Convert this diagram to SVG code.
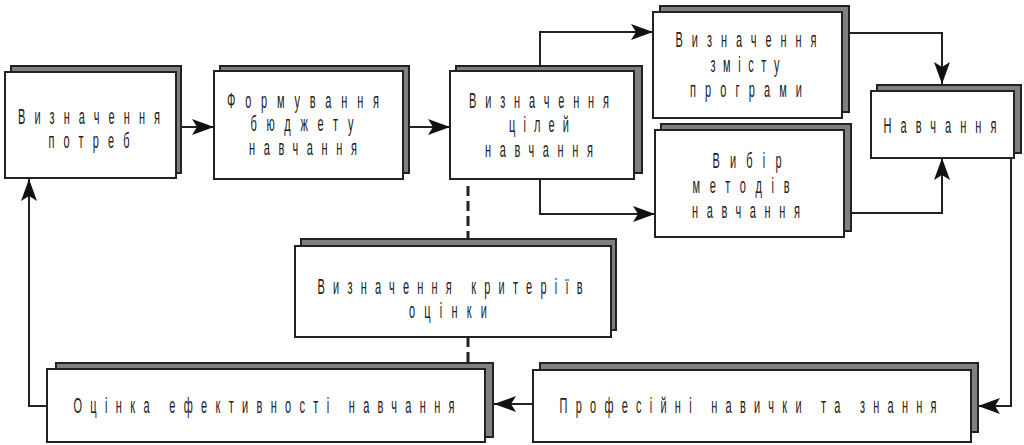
<svg xmlns="http://www.w3.org/2000/svg" width="1024" height="445" viewBox="0 0 1024 445">
<style>
.bk{fill:#808080;stroke:#222;stroke-width:2}
.fr{fill:#fff;stroke:#222;stroke-width:2}
.t{font-family:"Liberation Sans",Arial,sans-serif;font-size:22px;fill:#222;text-anchor:middle}
.c{fill:none;stroke:#222;stroke-width:2}
.d{fill:none;stroke:#222;stroke-width:3;stroke-dasharray:10 5}
</style>
<defs>
<marker id="ar" viewBox="0 0 22 16" refX="22" refY="8" markerWidth="22" markerHeight="16" markerUnits="userSpaceOnUse" orient="auto">
<path d="M0,0 L22,8 L0,16 L5,8 Z" fill="#111"/>
</marker>
</defs>
<rect width="1024" height="445" fill="#fff"/>
<g id="connectors">
<path class="c" d="M181,127 H214" marker-end="url(#ar)"/>
<path class="c" d="M409,127 H450" marker-end="url(#ar)"/>
<path class="c" d="M540,66 V32 H653" marker-end="url(#ar)"/>
<path class="c" d="M540,179 V214 H655" marker-end="url(#ar)"/>
<path class="c" d="M849,33 H942 V84" marker-end="url(#ar)"/>
<path class="c" d="M851,213 H942 V158" marker-end="url(#ar)"/>
<path class="c" d="M1011,158 V406 H978" marker-end="url(#ar)"/>
<path class="c" d="M533,404 H494" marker-end="url(#ar)"/>
<path class="c" d="M47,406 H29 V179" marker-end="url(#ar)"/>
<path class="d" d="M468,186 V239"/>
<path class="d" d="M468,337 V363"/>
</g>
<g id="n1">
<rect class="bk" x="11" y="66" width="170" height="107"/>
<rect class="fr" x="5" y="72" width="171" height="106"/>
<text class="t" transform="translate(89,124) scale(0.5,1)" textLength="284" lengthAdjust="spacing">Визначення</text>
<text class="t" transform="translate(89,148) scale(0.5,1)" textLength="162" lengthAdjust="spacing">потреб</text>
</g>
<g id="n2">
<rect class="bk" x="220" y="66" width="189" height="107"/>
<rect class="fr" x="214" y="71" width="189" height="108"/>
<text class="t" transform="translate(303,108) scale(0.5,1)" textLength="304" lengthAdjust="spacing">Формування</text>
<text class="t" transform="translate(302,131) scale(0.5,1)" textLength="206" lengthAdjust="spacing">бюджету</text>
<text class="t" transform="translate(303,155) scale(0.5,1)" textLength="216" lengthAdjust="spacing">навчання</text>
</g>
<g id="n3">
<rect class="bk" x="456" y="66" width="186" height="107"/>
<rect class="fr" x="450" y="71" width="184" height="108"/>
<text class="t" transform="translate(539,108) scale(0.5,1)" textLength="280" lengthAdjust="spacing">Визначення</text>
<text class="t" transform="translate(539,132) scale(0.5,1)" textLength="120" lengthAdjust="spacing">цілей</text>
<text class="t" transform="translate(539,157) scale(0.5,1)" textLength="216" lengthAdjust="spacing">навчання</text>
</g>
<g id="n4">
<rect class="bk" x="660" y="6" width="189" height="106"/>
<rect class="fr" x="653" y="12" width="189" height="106"/>
<text class="t" transform="translate(746,47) scale(0.5,1)" textLength="282" lengthAdjust="spacing">Визначення</text>
<text class="t" transform="translate(745,72) scale(0.5,1)" textLength="138" lengthAdjust="spacing">змісту</text>
<text class="t" transform="translate(746,97) scale(0.5,1)" textLength="224" lengthAdjust="spacing">програми</text>
</g>
<g id="n5">
<rect class="bk" x="661" y="124" width="190" height="107"/>
<rect class="fr" x="655" y="130" width="189" height="107"/>
<text class="t" transform="translate(747,168) scale(0.5,1)" textLength="138" lengthAdjust="spacing">Вибір</text>
<text class="t" transform="translate(741,193) scale(0.5,1)" textLength="194" lengthAdjust="spacing">методів</text>
<text class="t" transform="translate(746,218) scale(0.5,1)" textLength="216" lengthAdjust="spacing">навчання</text>
</g>
<g id="n6">
<rect class="bk" x="877" y="85" width="144" height="68"/>
<rect class="fr" x="871" y="91" width="143" height="67"/>
<text class="t" transform="translate(940,133) scale(0.5,1)" textLength="226" lengthAdjust="spacing">Навчання</text>
</g>
<g id="n7">
<rect class="bk" x="301" y="239" width="315" height="91"/>
<rect class="fr" x="295" y="246" width="316" height="91"/>
<text class="t" transform="translate(450,294) scale(0.5,1)" textLength="530" lengthAdjust="spacing">Визначення критеріїв</text>
<text class="t" transform="translate(448,318) scale(0.5,1)" textLength="156" lengthAdjust="spacing">оцінки</text>
</g>
<g id="n8">
<rect class="bk" x="56" y="363" width="437" height="74"/>
<rect class="fr" x="47" y="369" width="438" height="73"/>
<text class="t" transform="translate(264,413) scale(0.5,1)" textLength="762" lengthAdjust="spacing">Оцінка ефективності навчання</text>
</g>
<g id="n9">
<rect class="bk" x="540" y="363" width="438" height="69"/>
<rect class="fr" x="533" y="370" width="438" height="72"/>
<text class="t" transform="translate(748,413) scale(0.5,1)" textLength="754" lengthAdjust="spacing">Професійні навички та знання</text>
</g>
</svg>
